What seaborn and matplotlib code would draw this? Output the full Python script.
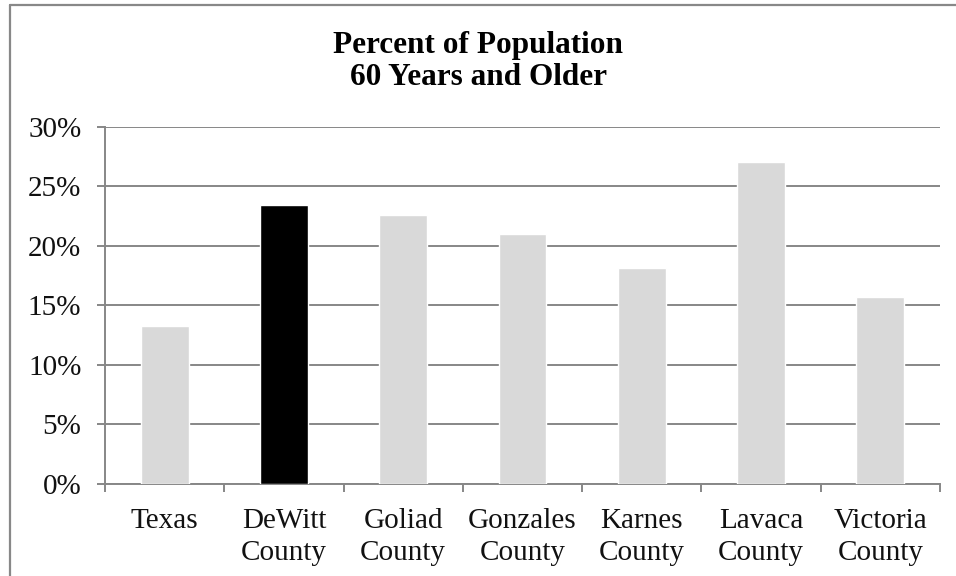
import matplotlib
matplotlib.use("Agg")
import matplotlib.pyplot as plt
from matplotlib.lines import Line2D
from matplotlib.ticker import PercentFormatter, FixedLocator
import seaborn as sns
import pandas as pd

categories = ["Texas", "DeWitt\nCounty", "Goliad\nCounty", "Gonzales\nCounty",
              "Karnes\nCounty", "Lavaca\nCounty", "Victoria\nCounty"]
values = [13.3, 23.4, 22.6, 21.0, 18.1, 27.0, 15.7]
bar_colors = ["#D9D9D9", "#000000", "#D9D9D9", "#D9D9D9", "#D9D9D9", "#D9D9D9", "#D9D9D9"]
y_ticks = [0, 5, 10, 15, 20, 25, 30]

sns.set_theme(style="white")
plt.rcParams["font.family"] = ["Liberation Serif", "DejaVu Serif"]

df = pd.DataFrame({"area": categories, "pct": values})

W, H = 956, 576
fig = plt.figure(figsize=(W / 100, H / 100), dpi=100)
ax = fig.add_axes([105 / W, 92 / H, (940 - 105) / W, (449.3 - 92) / H])

sns.barplot(data=df, x="area", y="pct", hue="area", palette=bar_colors,
            width=0.4, legend=False, saturation=1, ax=ax, zorder=3)

grid_col = "#878787"
ax.set_ylim(0, 30)
ax.set_xlim(-0.5, len(categories) - 0.5)
ax.yaxis.set_major_locator(FixedLocator(y_ticks))
ax.yaxis.set_major_formatter(PercentFormatter(decimals=0))
ax.grid(axis="y", color=grid_col, linewidth=1.4, zorder=0)
ax.set_axisbelow(True)

for side in ("top", "right"):
    ax.spines[side].set_visible(False)
for side in ("left", "bottom"):
    ax.spines[side].set_color(grid_col)
    ax.spines[side].set_linewidth(1.4)

ax.tick_params(axis="y", which="major", direction="out", length=6, width=1.4,
               color=grid_col, labelsize=21, labelcolor="#111111", pad=11, left=True)
ax.xaxis.set_minor_locator(FixedLocator([i - 0.5 for i in range(len(categories) + 1)]))
ax.tick_params(axis="x", which="minor", direction="out", length=6, width=1.4,
               color=grid_col, bottom=True)
ax.tick_params(axis="x", which="major", length=0, labelsize=21,
               labelcolor="#111111", pad=17)
for lbl in ax.get_xticklabels():
    lbl.set_linespacing(1.3)

ax.set_xlabel("")
ax.set_ylabel("")

fig.text(0.5, 1 - 61.5 / H, "Percent of Population\n60 Years and Older",
         ha="center", va="center", fontsize=22.5, fontweight="bold",
         color="#000000", linespacing=1.13)

# chart frame edges
fig.add_artist(Line2D([9.5 / W, 9.5 / W], [0, 1 - 5 / H], transform=fig.transFigure,
                      color="#888888", linewidth=1.6))
fig.add_artist(Line2D([9.5 / W, 1], [1 - 5 / H, 1 - 5 / H], transform=fig.transFigure,
                      color="#888888", linewidth=1.6))

fig.savefig("out.png", dpi=100)
